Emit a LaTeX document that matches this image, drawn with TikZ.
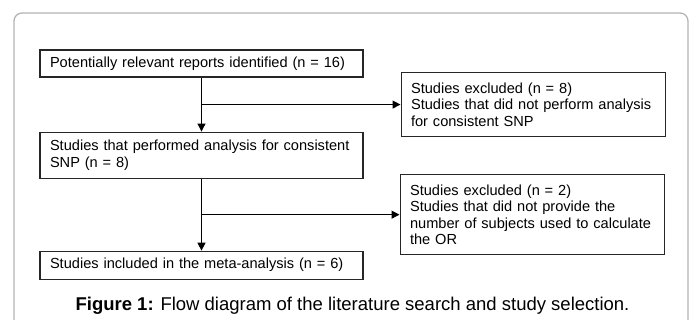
\documentclass[tikz,border=0pt]{standalone}
\usepackage{fontspec}
\setmainfont{Liberation Sans}
\usetikzlibrary{arrows.meta,positioning,calc}
\definecolor{framegray}{RGB}{180,180,180}
\tikzstyle{stage} = [rectangle, draw=black!85, line width=1.1pt, text width=303pt,
    align=left, inner xsep=10pt, inner ysep=0pt, minimum height=27pt,
    font=\fontsize{14.6}{16.3}\selectfont]

\begin{document}
\begin{tikzpicture}[x=1pt,y=-1pt,->,>={Triangle[length=8pt,width=8pt]},
                    line width=1.1pt,node distance=54pt]
  \useasboundingbox (0,0) rectangle (697,320);
  \draw[-,framegray,line width=1.3pt,rounded corners=8pt] (14,320) -- (14,13) -- (688,13) -- (688,320);

  \node[stage]                    (1) at (201.5,63.5) {\mbox{Potentially relevant reports identified (n = 16)}};
  \node[stage,minimum height=46pt] (2) [below=of 1]      {\mbox{Studies that performed analysis for consistent}\\\mbox{SNP (n = 8)}};
  \node[stage,minimum height=28pt] (3) [below=72pt of 2] {\mbox{Studies included in the meta-analysis (n = 6)}};
  \coordinate (b1) at ($(1.south)!.5!(2.north)$);
  \coordinate (b2) at ($(2.south)!.5!(3.north)$);
  \node[stage,text width=244pt,minimum height=64pt] (4) [right=199pt of b1]
    {\mbox{Studies excluded (n = 8)}\\\mbox{Studies that did not perform analysis}\\\mbox{for consistent SNP}};
  \node[stage,text width=244pt,minimum height=80pt] (5) [right=198pt of b2]
    {\mbox{Studies excluded (n = 2)}\\\mbox{Studies that did not provide the}\\\mbox{number of subjects used to calculate}\\\mbox{the OR}};

  \node[font=\fontsize{18.5}{20}\selectfont,anchor=base] (cap) at (352.5,311)
    {\textbf{Figure 1:} Flow diagram of the literature search and study selection.};

  \path (1) edge (2)
  (b1) edge (4)
  (2) edge (3)
  (b2) edge (5);
\end{tikzpicture}
\end{document}
